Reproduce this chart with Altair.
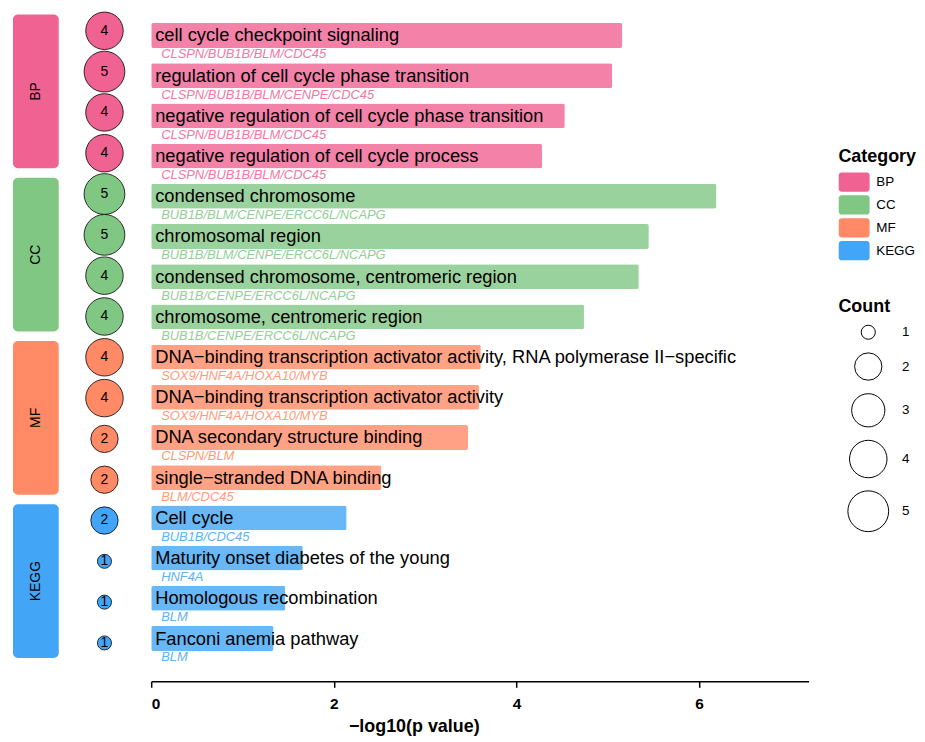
import altair as alt
import pandas as pd

FONT = "Liberation Sans"

categories = ["BP", "CC", "MF", "KEGG"]
category_colors = ["#F06292", "#81C784", "#FF8A65", "#42A5F5"]

terms = [
    "cell cycle checkpoint signaling",
    "regulation of cell cycle phase transition",
    "negative regulation of cell cycle phase transition",
    "negative regulation of cell cycle process",
    "condensed chromosome",
    "chromosomal region",
    "condensed chromosome, centromeric region",
    "chromosome, centromeric region",
    "DNA\u2212binding transcription activator activity, RNA polymerase II\u2212specific",
    "DNA\u2212binding transcription activator activity",
    "DNA secondary structure binding",
    "single\u2212stranded DNA binding",
    "Cell cycle",
    "Maturity onset diabetes of the young",
    "Homologous recombination",
    "Fanconi anemia pathway",
]
term_categories = ["BP"] * 4 + ["CC"] * 4 + ["MF"] * 4 + ["KEGG"] * 4
gene_lists = [
    "CLSPN/BUB1B/BLM/CDC45",
    "CLSPN/BUB1B/BLM/CENPE/CDC45",
    "CLSPN/BUB1B/BLM/CDC45",
    "CLSPN/BUB1B/BLM/CDC45",
    "BUB1B/BLM/CENPE/ERCC6L/NCAPG",
    "BUB1B/BLM/CENPE/ERCC6L/NCAPG",
    "BUB1B/CENPE/ERCC6L/NCAPG",
    "BUB1B/CENPE/ERCC6L/NCAPG",
    "SOX9/HNF4A/HOXA10/MYB",
    "SOX9/HNF4A/HOXA10/MYB",
    "CLSPN/BLM",
    "BLM/CDC45",
    "BUB1B/CDC45",
    "HNF4A",
    "BLM",
    "BLM",
]
gene_counts = [4, 5, 4, 4, 5, 5, 4, 4, 4, 4, 2, 2, 2, 1, 1, 1]
neg_log10_p = [5.16, 5.05, 4.53, 4.28, 6.19, 5.45, 5.34, 4.74,
               3.61, 3.59, 3.47, 2.52, 2.14, 1.66, 1.47, 1.34]
count_levels = [1, 2, 3, 4, 5]
x_ticks = [0, 2, 4, 6]

df = pd.DataFrame({
    "row": list(range(len(terms))),
    "term": terms,
    "category": term_categories,
    "genes": gene_lists,
    "count": gene_counts,
    "neglogp": neg_log10_p,
})

grp = df.groupby("category", sort=False)["row"].agg(["min", "max"]).reset_index()
blocks = pd.DataFrame({
    "category": grp["category"],
    "y0": grp["min"] - 0.40,
    "y1": grp["max"] + 0.37,
})
blocks["ymid"] = (blocks["y0"] + blocks["y1"]) / 2

H = 675
ysc = alt.Scale(domain=[-0.51, 15.94], reverse=True, nice=False, zero=False)
color_scale = alt.Scale(domain=categories, range=category_colors)
size_scale = alt.Scale(domain=count_levels, range=[200, 755, 1115, 1420, 1680])

ROUND_RECT = ("M-0.7,-1H1.9A0.3,0.3 0 0 1 2.2,-0.7V0.7A0.3,0.3 0 0 1 1.9,1"
              "H-0.7A0.3,0.3 0 0 1 -1,0.7V-0.7A0.3,0.3 0 0 1 -0.7,-1Z")

cat_legend = alt.Legend(
    title="Category", orient="none", legendX=830, legendY=139,
    symbolType=ROUND_RECT, symbolSize=376, symbolStrokeWidth=0, symbolOpacity=1,
    titleFontSize=18, titleFontWeight="bold", titleFont=FONT, titleColor="black",
    labelFontSize=13.5, labelFont=FONT, labelColor="black",
    rowPadding=3, labelOffset=18, titlePadding=6,
)
count_legend = alt.Legend(
    title="Count", orient="none", legendX=830, legendY=290, values=count_levels,
    symbolFillColor="white", symbolStrokeColor="black", symbolStrokeWidth=1,
    symbolOpacity=1, symbolType="circle", symbolOffset=9,
    titleFontSize=18, titleFontWeight="bold", titleFont=FONT, titleColor="black",
    labelFontSize=13.5, labelFont=FONT, labelColor="black",
    rowPadding=8, labelOffset=13, titlePadding=8,
)

# Panel A: category blocks
blk = alt.Chart(blocks)
blk_rect = blk.mark_rect(cornerRadius=5).encode(
    y=alt.Y("y0:Q", scale=ysc, axis=None),
    y2="y1:Q",
    color=alt.Color("category:N", scale=color_scale, legend=cat_legend),
)
blk_text = blk.mark_text(angle=270, fontSize=14, font=FONT, color="black").encode(
    y=alt.Y("ymid:Q", scale=ysc, axis=None),
    text="category:N",
)
panel_a = alt.layer(blk_rect, blk_text).properties(width=46, height=H)

# Panel B: count circles
base = alt.Chart(df)
circ = base.mark_circle(stroke="black", strokeWidth=0.8, opacity=1).encode(
    y=alt.Y("row:Q", scale=ysc, axis=None),
    color=alt.Color("category:N", scale=color_scale, legend=None),
    size=alt.Size("count:Q", scale=size_scale, legend=count_legend),
)
circ_text = base.mark_text(fontSize=14, font=FONT, color="black").encode(
    y=alt.Y("row:Q", scale=ysc, axis=None),
    text="count:Q",
)
panel_b = alt.layer(circ, circ_text).properties(width=60, height=H)

# Panel C: bars
x_scale = alt.Scale(domain=[0, 7.2], nice=False, zero=True)
x_axis = alt.Axis(
    values=x_ticks, format="d", title="\u2212log10(p value)", grid=False,
    domainColor="black", domainWidth=1.5, tickColor="black", tickWidth=1.5,
    tickSize=6, labelFontSize=15.5, labelFontWeight="bold", labelColor="black",
    labelFont=FONT, labelPadding=9, titleFontSize=18, titleFontWeight="bold",
    titleColor="black", titleFont=FONT, titleX=264, titlePadding=6,
)
bars = base.mark_bar(orient="horizontal", size=25, cornerRadius=2, opacity=0.8).encode(
    x=alt.X("neglogp:Q", scale=x_scale, axis=x_axis),
    y=alt.Y("row:Q", scale=ysc, axis=None),
    color=alt.Color("category:N", scale=color_scale, legend=None),
)
term_text = base.mark_text(align="left", baseline="middle", dx=4, fontSize=18.4,
                           font=FONT, color="black").encode(
    x=alt.datum(0),
    y=alt.Y("row:Q", scale=ysc, axis=None),
    text="term:N",
)
gene_text = base.mark_text(align="left", baseline="middle", dx=10, dy=19, fontSize=13,
                           font=FONT, fontStyle="italic", opacity=0.85).encode(
    x=alt.datum(0),
    y=alt.Y("row:Q", scale=ysc, axis=None),
    text="genes:N",
    color=alt.Color("category:N", scale=color_scale, legend=None),
)
panel_c = alt.layer(bars, term_text, gene_text).properties(width=661, height=H)

chart = alt.hconcat(panel_a, panel_b, panel_c, spacing=16).properties(
    padding={"left": 5, "top": 0, "right": 0, "bottom": 0}
).configure(font=FONT).configure_view(strokeWidth=0, stroke="transparent")

chart.save("out.html", embed_options={"renderer": "svg", "actions": False})
